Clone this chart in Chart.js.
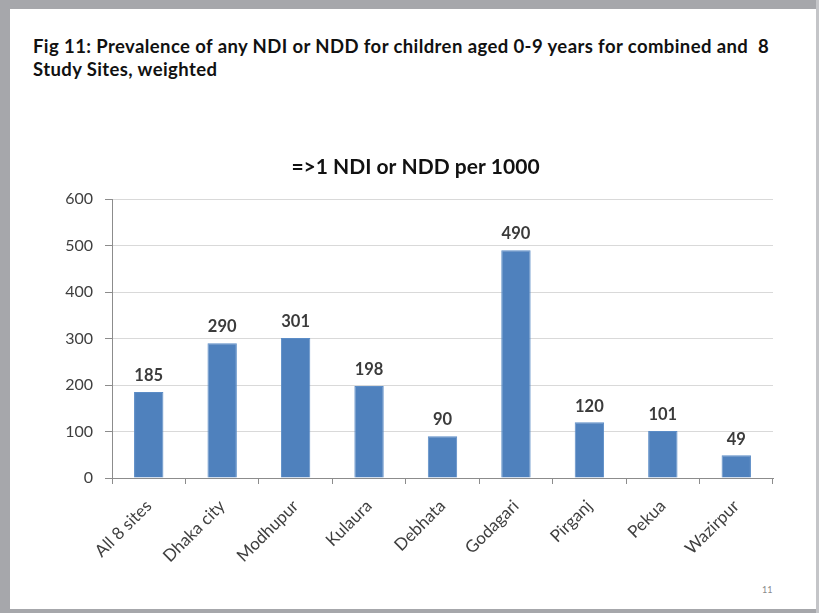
<!DOCTYPE html>
<html>
<head>
<meta charset="utf-8">
<script src="https://cdn.jsdelivr.net/npm/chart.js@4.4.1/dist/chart.umd.min.js"></script>
<style>
  html, body { margin: 0; padding: 0; background: #ffffff; }
  #slide { position: relative; width: 819px; height: 613px; overflow: hidden; background: #ffffff; }
  .band { position: absolute; background: #a6a7ab; }
  #heading {
    position: absolute; left: 33px; top: 35px; width: 780px;
    font-family: Lato, "Open Sans", sans-serif; font-weight: 700; font-size: 18.5px;
    line-height: 23px; color: #111111; letter-spacing: 0.4px; white-space: nowrap;
  }
  #pageno {
    position: absolute; left: 762px; top: 584px;
    font-family: Lato, sans-serif; font-size: 9px; color: #8a8a8a;
  }
  #chartWrap { position: absolute; left: 0; top: 0; width: 819px; height: 613px; }
</style>
</head>
<body>
<div id="slide">
  <div class="band" style="left:0;top:0;width:819px;height:9px;"></div>
  <div class="band" style="left:0;top:0;width:10px;height:613px;"></div>
  <div class="band" style="left:0;top:609px;width:819px;height:4px;"></div>
  <div class="band" style="left:816px;top:0;width:3px;height:613px;background:#c4c5c8;"></div>
  <div id="heading">Fig 11: Prevalence of any NDI or NDD for children aged 0-9 years for combined and&nbsp; 8<br>Study Sites, weighted</div>
  <div id="pageno">11</div>
  <div id="chartWrap"><canvas id="chart" width="819" height="613"></canvas></div>
</div>
<script>
// Study sites and prevalence (per 1000 children aged 0-9, weighted)
const sites = ["All 8 sites", "Dhaka city", "Modhupur", "Kulaura", "Debhata", "Godagari", "Pirganj", "Pekua", "Wazirpur"];
const prevalencePer1000 = [185, 290, 301, 198, 90, 490, 120, 101, 49];
const yTicks = [0, 100, 200, 300, 400, 500, 600];
const chartTitle = "=>1 NDI or NDD per 1000";

const FONT = 'Lato, "Open Sans", sans-serif';

// Chart heading, centred on the slide rather than on the padded chart box
const slideTitle = {
  id: "slideTitle",
  afterDraw(chart) {
    const ctx = chart.ctx;
    ctx.save();
    ctx.font = "700 21px " + FONT;
    ctx.fillStyle = "#111111";
    ctx.textAlign = "center";
    ctx.textBaseline = "middle";
    ctx.fillText(chartTitle, chart.width / 2 + 6, 167);
    ctx.restore();
  }
};

// Writes each bar's value above it
const valueLabels = {
  id: "valueLabels",
  afterDatasetsDraw(chart) {
    const ctx = chart.ctx;
    const meta = chart.getDatasetMeta(0);
    ctx.save();
    ctx.font = "700 16.5px " + FONT;
    ctx.fillStyle = "#3b3b3b";
    ctx.textAlign = "center";
    ctx.textBaseline = "middle";
    meta.data.forEach((bar, i) => {
      ctx.fillText(String(chart.data.datasets[0].data[i]), bar.x, bar.y - 16);
    });
    ctx.restore();
  }
};

new Chart(document.getElementById("chart"), {
  type: "bar",
  data: {
    labels: sites,
    datasets: [{
      data: prevalencePer1000,
      backgroundColor: "#4f81bd",
      borderColor: "#5b8cc6",
      borderWidth: 1,
      barPercentage: 0.4,
      categoryPercentage: 1.0
    }]
  },
  options: {
    responsive: false,
    animation: false,
    devicePixelRatio: 1,
    layout: { padding: { left: 20, right: 46, top: 199, bottom: 0 } },
    plugins: {
      legend: { display: false },
      tooltip: { enabled: false },
      title: { display: false }
    },
    scales: {
      x: {
        afterFit(scale) { scale.height = 135; },
        grid: {
          offset: true,
          drawOnChartArea: false,
          drawTicks: true,
          tickLength: 6,
          color: "#8c8c8c"
        },
        border: { display: true, color: "#8c8c8c", width: 1 },
        ticks: {
          autoSkip: false,
          minRotation: 45,
          maxRotation: 45,
          color: "#3f3f3f",
          font: { family: FONT, size: 17 },
          padding: 12
        }
      },
      y: {
        min: 0,
        max: 600,
        afterFit(scale) { scale.width = 92; },
        afterBuildTicks(scale) { scale.ticks = yTicks.map(v => ({ value: v })); },
        grid: {
          color: "#d9d9d9",
          drawTicks: true,
          tickLength: 7,
          tickColor: "#8c8c8c"
        },
        border: { display: true, color: "#8c8c8c", width: 1 },
        ticks: {
          color: "#3f3f3f",
          font: { family: FONT, size: 16 },
          padding: 12
        }
      }
    }
  },
  plugins: [valueLabels, slideTitle]
});
</script>
</body>
</html>
